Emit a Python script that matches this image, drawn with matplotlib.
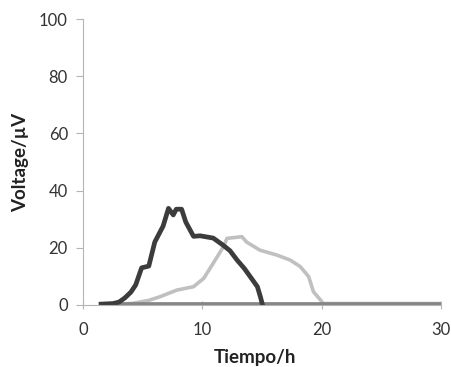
import matplotlib
matplotlib.use("Agg")
import matplotlib.pyplot as plt

plt.rcParams["font.family"] = ["Lato", "DejaVu Sans"]

# series (hours, microvolts)
dark_t = [1.5, 2.5, 3.0, 3.5, 4.0, 4.4, 4.9, 5.5, 6.0, 6.7, 7.15, 7.55, 7.8, 8.25, 8.6, 9.25,
          9.8, 10.9, 11.7, 12.3, 12.9, 13.5, 14.0, 14.6, 14.85, 15.0]
dark_v = [0.3, 0.5, 1.0, 2.5, 4.5, 7.0, 13.0, 13.6, 22.0, 27.6, 33.8, 31.5, 33.5, 33.5, 29.0, 24.0,
          24.2, 23.4, 21.0, 19.0, 15.7, 12.8, 9.9, 6.4, 2.9, 0.5]

light_t = [1.5, 3.0, 4.2, 5.5, 6.45, 7.85, 9.25, 10.1, 10.9, 11.76, 12.05, 12.7, 13.3, 13.7,
           14.8, 16.2, 17.35, 18.2, 18.9, 19.3, 19.9, 20.1, 30.0]
light_v = [0.0, 0.2, 0.6, 1.6, 2.9, 5.2, 6.4, 9.3, 14.6, 20.4, 23.3, 23.6, 23.9, 22.0,
           19.2, 17.5, 15.7, 13.4, 9.9, 4.6, 1.7, 0.5, 0.5]

base_t = [1.5, 10.0, 20.0, 30.0]
base_v = [0.3, 0.3, 0.3, 0.3]

fig = plt.figure(figsize=(4.52, 3.67), dpi=100)
ax = fig.add_axes([0.184, 0.169, 0.792, 0.779])

ax.plot(light_t, light_v, color="#c0c0c0", lw=2.6, solid_joinstyle="round")
ax.plot(base_t, base_v, color="#858585", lw=3.4)
ax.plot(dark_t, dark_v, color="#3c3c3c", lw=3.4, solid_joinstyle="round")

ax.set_xlim(0, 30)
ax.set_ylim(0, 100)
ax.set_xticks([0, 10, 20, 30])
ax.set_yticks([0, 20, 40, 60, 80, 100])

for s in ["top", "right"]:
    ax.spines[s].set_visible(False)
for s in ["left", "bottom"]:
    ax.spines[s].set_color("#b5b5b5")
ax.tick_params(axis="y", direction="out", length=5, color="#b5b5b5", labelsize=12,
               labelcolor="#333333", pad=6)
ax.tick_params(axis="x", direction="inout", length=6, color="#b5b5b5", labelsize=12,
               labelcolor="#333333", pad=9)

ax.set_xlabel("Tiempo/h", fontsize=13.5, fontweight="bold", color="#222222", labelpad=6)
ax.set_ylabel("Voltage/\u00b5V", fontsize=13.5, fontweight="bold", color="#222222", labelpad=7)
ax.xaxis.set_label_coords(0.48, -0.155)

fig.savefig("out.png", dpi=100)
